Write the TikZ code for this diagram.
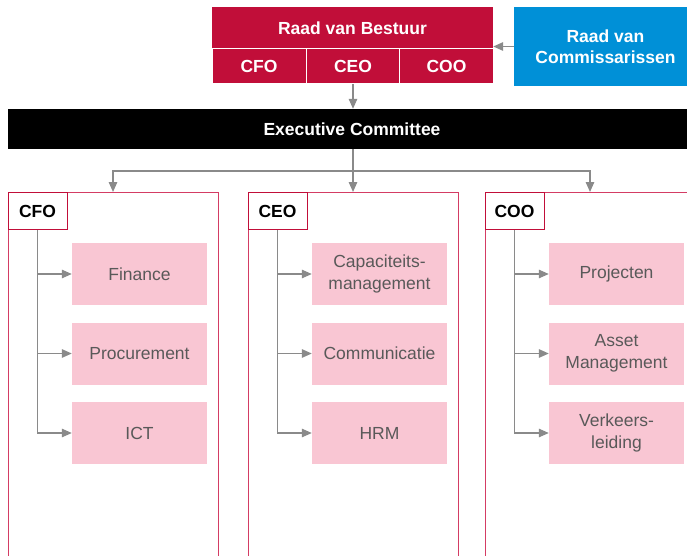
\documentclass[tikz,border=0pt]{standalone}
\usepackage{fontspec}
\setmainfont{Liberation Sans}
\usepackage{xcolor}
\usetikzlibrary{arrows.meta}

\definecolor{rvbred}{RGB}{193,14,57}
\definecolor{rvcblue}{RGB}{0,144,215}
\definecolor{subpink}{RGB}{249,198,211}
\definecolor{framered}{RGB}{212,60,100}
\definecolor{subtext}{RGB}{89,89,89}
\definecolor{arrgrey}{RGB}{138,138,138}

\begin{document}
\begin{tikzpicture}[x=1pt,y=-1pt,
    txt/.style={font=\fontsize{17.5}{21.5}\selectfont,inner sep=0pt,align=center},
    rvbbox/.style={txt,fill=rvbred,text=white,font=\fontsize{17.5}{21.5}\selectfont\bfseries},
    rvbcell/.style={rvbbox,draw=white,line width=1pt,minimum width=94pt,minimum height=35pt},
    rvcbox/.style={txt,fill=rvcblue,text=white,font=\fontsize{17.5}{21.5}\selectfont\bfseries},
    execbox/.style={txt,fill=black,text=white,font=\fontsize{17.5}{21.5}\selectfont\bfseries},
    colframe/.style={draw=framered,line width=1pt,minimum width=210pt,minimum height=420pt,anchor=north},
    lblbox/.style={txt,draw=rvbred,fill=white,line width=1pt,minimum width=59pt,minimum height=37pt,anchor=north west,font=\fontsize{17.5}{21.5}\selectfont\bfseries},
    subbox/.style={txt,fill=subpink,text=subtext,minimum width=135pt,minimum height=62pt},
    line/.style={draw=arrgrey,line width=1.3pt},
    arr/.style={line,-{Triangle[length=10pt,width=8.5pt]}}]
    \clip (0,0) rectangle (687,556);
    % top: board and supervisory board
    \node[rvbbox,minimum width=281pt,minimum height=42pt] (rvb) at (352.5,28) {Raad van Bestuur};
    \node[rvbcell] (cfo) at (259,66.5) {CFO};
    \node[rvbcell] (ceo) at (353,66.5) {CEO};
    \node[rvbcell] (coo) at (446.5,66.5) {COO};
    \node[rvcbox,minimum width=183pt,minimum height=79pt] (rvc) at (605.5,46.5) {Raad van\\Commissarissen};
    \draw[arr] (rvc.west) -- (rvc.west -| rvb.east);
    % executive committee
    \node[execbox,minimum width=688pt,minimum height=40pt] (exec) at (352,129) {Executive Committee};
    \draw[arr] (ceo.south) -- (ceo.south |- exec.north);
    % columns
    \node[colframe] (fcfo) at (113,192) {};
    \node[colframe] (fceo) at (353,192) {};
    \node[colframe] (fcoo) at (590,192) {};
    \coordinate (split) at (353,171);
    \draw[line] (exec.south -| split) -- (split);
    \draw[arr] (split) -| (fcfo.north);
    \draw[arr] (split) -| (fcoo.north);
    \draw[arr] (split) -- (fceo.north);
    \node[lblbox] (lcfo) at (fcfo.north west) {CFO};
    \node[lblbox] (lceo) at (fceo.north west) {CEO};
    \node[lblbox] (lcoo) at (fcoo.north west) {COO};
    % CFO
    \node[subbox] (fin) at (139.5,274) {Finance};
    \node[subbox] (proc) at (139.5,353.5) {Procurement};
    \node[subbox] (ict) at (139.5,433) {ICT};
    \draw[arr] (lcfo.south) |- (ict.west);
    \draw[arr] (lcfo.south |- fin.west) -- (fin.west);
    \draw[arr] (lcfo.south |- proc.west) -- (proc.west);
    % CEO
    \node[subbox] (cap) at (379.5,274) {Capaciteits-\\management};
    \node[subbox] (comm) at (379.5,353.5) {Communicatie};
    \node[subbox] (hrm) at (379.5,433) {HRM};
    \draw[arr] (lceo.south) |- (hrm.west);
    \draw[arr] (lceo.south |- cap.west) -- (cap.west);
    \draw[arr] (lceo.south |- comm.west) -- (comm.west);
    % COO
    \node[subbox] (proj) at (616.5,274) {Projecten};
    \node[subbox] (asset) at (616.5,353.5) {Asset\\Management};
    \node[subbox] (verk) at (616.5,433) {Verkeers-\\leiding};
    \draw[arr] (lcoo.south) |- (verk.west);
    \draw[arr] (lcoo.south |- proj.west) -- (proj.west);
    \draw[arr] (lcoo.south |- asset.west) -- (asset.west);
\end{tikzpicture}
\end{document}
